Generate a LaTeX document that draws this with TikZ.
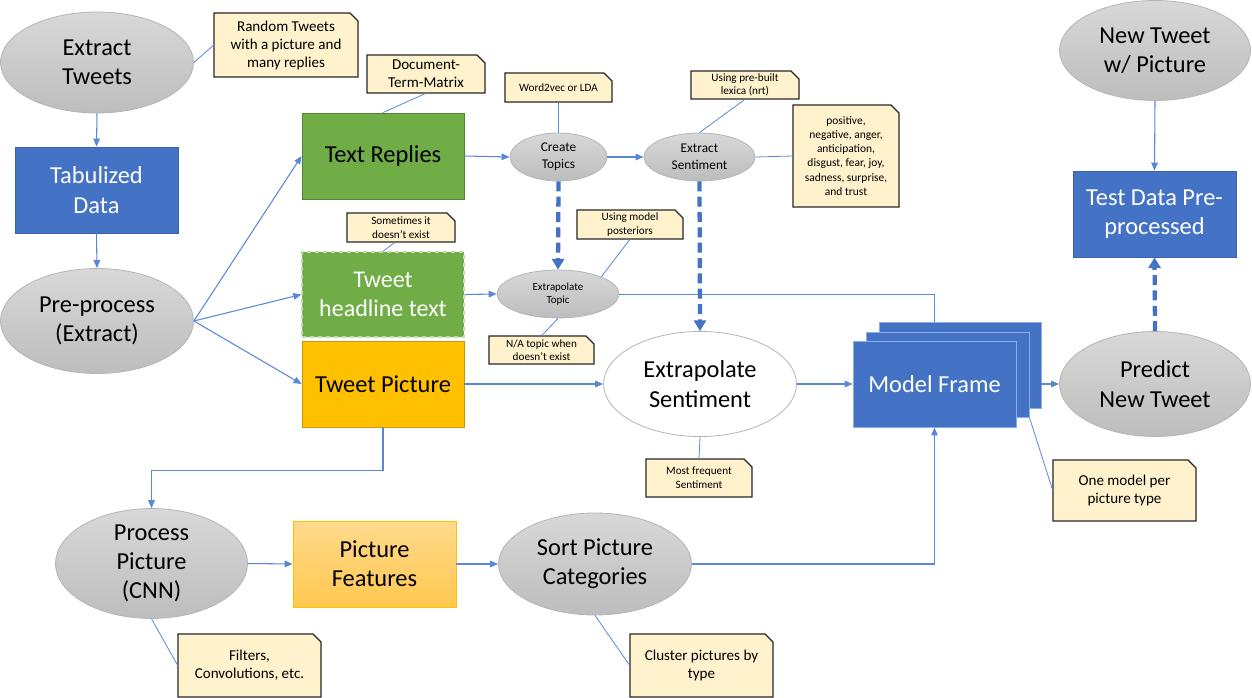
\documentclass[tikz,border=0pt]{standalone}
\usepackage{fontspec}
\setmainfont{Carlito}
\usetikzlibrary{arrows.meta,shapes.geometric}
\definecolor{lnblue}{HTML}{5A88D8}
\definecolor{dkblue}{HTML}{4472C4}
\definecolor{boxblue}{HTML}{4472C4}
\definecolor{bluebd}{HTML}{3A62AC}
\definecolor{green1}{HTML}{70AD47}
\definecolor{greenbd}{HTML}{548235}
\definecolor{gold}{HTML}{FFC000}
\definecolor{goldbd}{HTML}{C99700}
\definecolor{pfTop}{HTML}{FFD98C}
\definecolor{pfBot}{HTML}{FFC84F}
\definecolor{ellTop}{HTML}{D8D8D8}
\definecolor{ellBot}{HTML}{BDBDBD}
\definecolor{ellBd}{HTML}{B5B5B5}
\definecolor{notefill}{HTML}{FFF2CC}
\definecolor{notebd}{HTML}{262626}
\newcommand\pxw[1]{#1*0.75pt}
\newcommand\notebox[8]{% name, cx, cy, w, h, font size, skip, text
  \fill[notefill] ({#2-#4/2},{#3+#5/2}) -- ({#2-#4/2},{#3-#5/2}) -- ({#2+#4/2-8},{#3-#5/2}) -- ({#2+#4/2},{#3-#5/2+8}) -- ({#2+#4/2},{#3+#5/2}) -- cycle;
  \draw[notebd,line width=1pt,line join=miter] ({#2-#4/2},{#3+#5/2}) -- ({#2-#4/2},{#3-#5/2}) -- ({#2+#4/2-8},{#3-#5/2}) -- ({#2+#4/2},{#3-#5/2+8}) -- ({#2+#4/2},{#3+#5/2}) -- cycle;
  \node[inner sep=0, minimum width=\pxw{#4}, minimum height=\pxw{#5}, align=center, font=\fontsize{#6}{#7}\selectfont] (#1) at (#2,#3) {#8};
}
\tikzset{
  bigfont/.style={font=\fontsize{18.3}{22}\selectfont},
  ell/.style={ellipse, inner sep=0, draw=ellBd, line width=0.6pt, top color=ellTop, bottom color=ellBot, align=center},
  bluebox/.style={rectangle, inner sep=0, fill=boxblue, draw=bluebd, line width=0.6pt, text=white, align=center, bigfont},
  conn/.style={draw=lnblue, line width=0.8pt, -{Triangle[length=6pt,width=5pt]}},
  plainln/.style={draw=lnblue, line width=0.6pt},
  thickdash/.style={draw=dkblue, line width=3.2pt, dash pattern=on 7.5pt off 4pt, -{Triangle[length=8pt,width=9pt]}},
}
\begin{document}
\begin{tikzpicture}[x=0.75pt,y=-0.75pt]
\useasboundingbox (0,0) rectangle (1252,698);

% ---- ellipses ----
\node[ell, bigfont, minimum width=\pxw{193}, minimum height=\pxw{101}] (et) at (97,62.5) {Extract\\Tweets};
\node[ell, bigfont, minimum width=\pxw{193}, minimum height=\pxw{105}] (pp) at (97,321) {Pre-process\\(Extract)};
\node[ell, bigfont, minimum width=\pxw{192}, minimum height=\pxw{102}] (proc) at (151.5,563.5) {Process\\Picture\\(CNN)};
\node[ell, bigfont, minimum width=\pxw{193}, minimum height=\pxw{102}] (spc) at (595,564) {Sort Picture\\Categories};
\node[ellipse, inner sep=0, draw=ellBd, line width=0.6pt, fill=white, align=center, bigfont, minimum width=\pxw{193}, minimum height=\pxw{105}] (esent) at (700,384) {Extrapolate\\Sentiment};
\node[ell, bigfont, minimum width=\pxw{191}, minimum height=\pxw{105}] (pred) at (1155,384) {Predict\\New Tweet};
\node[ell, bigfont, minimum width=\pxw{191}, minimum height=\pxw{100}] (nt) at (1155,50.5) {New Tweet\\w/ Picture};
\node[ell, font=\fontsize{10}{12.5}\selectfont, minimum width=\pxw{97}, minimum height=\pxw{48}] (ct) at (558.5,157) {Create\\Topics};
\node[ell, font=\fontsize{10}{12.5}\selectfont, minimum width=\pxw{111}, minimum height=\pxw{48}] (xs) at (699.5,157) {Extract\\Sentiment};
\node[ell, font=\fontsize{8.2}{10}\selectfont, minimum width=\pxw{122}, minimum height=\pxw{48}] (xt) at (558,294) {Extrapolate\\Topic};

% ---- boxes ----
\node[bluebox, minimum width=\pxw{163}, minimum height=\pxw{86}] (tab) at (96.5,190) {Tabulized\\Data};
\node[rectangle, inner sep=0, fill=green1, draw=greenbd, line width=0.6pt, bigfont, minimum width=\pxw{162}, minimum height=\pxw{86}] (tr) at (383,156) {Text Replies};
\node[rectangle, inner sep=0, fill=green1, draw=green1!45!white, dashed, line width=1pt, text=white, align=center, font=\fontsize{18}{21.5}\selectfont, minimum width=\pxw{162}, minimum height=\pxw{85}] (th) at (383,294.5) {Tweet\\headline text};
\node[rectangle, inner sep=0, fill=gold, draw=goldbd, line width=0.6pt, bigfont, minimum width=\pxw{162}, minimum height=\pxw{86}] (tp) at (383,384) {Tweet Picture};
\node[rectangle, inner sep=0, top color=pfTop, bottom color=pfBot, draw=gold, line width=0.6pt, align=center, bigfont, minimum width=\pxw{163}, minimum height=\pxw{86}] (pf) at (374.5,564) {Picture\\Features};
\node[bluebox, minimum width=\pxw{163}, minimum height=\pxw{86}] (td) at (1154.5,214) {Test Data Pre-\\processed};
\node[bluebox, draw=lnblue!70!white, minimum width=\pxw{162}, minimum height=\pxw{86}] (mf3) at (960,365) {};
\node[bluebox, draw=lnblue!70!white, minimum width=\pxw{163}, minimum height=\pxw{85}] (mf2) at (947.5,374.5) {};
\node[bluebox, draw=lnblue!70!white, minimum width=\pxw{163}, minimum height=\pxw{86}] (mf) at (934.5,384) {Model Frame};

% ---- notes ----
\notebox{rt}{286}{45}{144}{64}{11.3}{13.5}{Random Tweets\\with a picture and\\many replies}
\notebox{dtm}{426}{74}{118}{38}{11.3}{13.5}{Document-\\Term-Matrix}
\notebox{w2v}{558.5}{87.5}{107}{29}{8.4}{10.2}{Word2vec or LDA}
\notebox{lex}{745}{85}{108}{28}{8.4}{10.2}{Using pre-built\\lexica (nrt)}
\notebox{pos}{846}{156}{106}{102}{8.6}{10.6}{positive,\\negative, anger,\\anticipation,\\disgust, fear, joy,\\sadness, surprise,\\and trust}
\notebox{some}{401}{227.5}{108}{29}{8.4}{10.2}{Sometimes it\\doesn’t exist}
\notebox{mp}{630}{224.5}{106}{29}{8.4}{10.2}{Using model\\posteriors}
\notebox{na}{541.5}{350}{105}{28}{8.4}{10.2}{N/A topic when\\doesn’t exist}
\notebox{mfs}{699}{478}{106}{38}{8.4}{10.2}{Most frequent\\Sentiment}
\notebox{om}{1124.5}{490.5}{143}{61}{11.3}{13.5}{One model per\\picture type}
\notebox{fil}{249.5}{665.5}{143}{63}{11.3}{13.5}{Filters,\\Convolutions, etc.}
\notebox{cl}{701.5}{665.5}{143}{63}{11.3}{13.5}{Cluster pictures by\\type}

% ---- connectors ----
\draw[conn] (et.south) -- (tab.north);
\draw[conn] (tab.south) -- (pp.north);
\draw[conn] (pp.east) -- (tr.west);
\draw[conn] (pp.east) -- (th.west);
\draw[conn] (pp.east) -- (tp.west);
\draw[conn] (tr.east) -- (ct.west);
\draw[conn] (ct.east) -- (xs.west);
\draw[conn] (th.east) -- (xt.west);
\draw[conn] (tp.east) -- (esent.west);
\draw[conn] (esent.east) -- (mf.west);
\draw[conn] (mf3.east |- mf.west) -- (pred.west);
\draw[conn] (nt.south) -- (td.north);
\draw[conn] (tp.south) -- ++(0,43) -| (proc.north);
\draw[conn] (proc.east) -- (pf.west);
\draw[conn] (pf.east) -- (spc.west);
\draw[conn] (spc.east) -| (mf.south);
\draw[plainln] (xt.east) -| (mf.north |- mf3.north);
\draw[thickdash] (ct.south) -- (xt.north);
\draw[thickdash] (xs.south) -- (esent.north);
\draw[thickdash] (pred.north) -- (td.south);

% ---- note links ----
\draw[plainln] (et.east) -- (rt.west);
\draw[plainln] (dtm.south) -- (tr.north);
\draw[plainln] (w2v.south) -- (ct.north);
\draw[plainln] (lex.south) -- (xs.north);
\draw[plainln] (xs.east) -- (pos.west);
\draw[plainln] ([xshift=-4.5pt]some.south) -- (th.north);
\draw[plainln] (mp.south) -- (xt.north east);
\draw[plainln] (na.north) -- (xt.south);
\draw[plainln] (esent.south) -- (mfs.north);
\draw[plainln] (mf2.south east) -- (om.west);
\draw[plainln] (proc.south) -- (fil.west);
\draw[plainln] (spc.south) -- (cl.west);
\end{tikzpicture}
\end{document}
